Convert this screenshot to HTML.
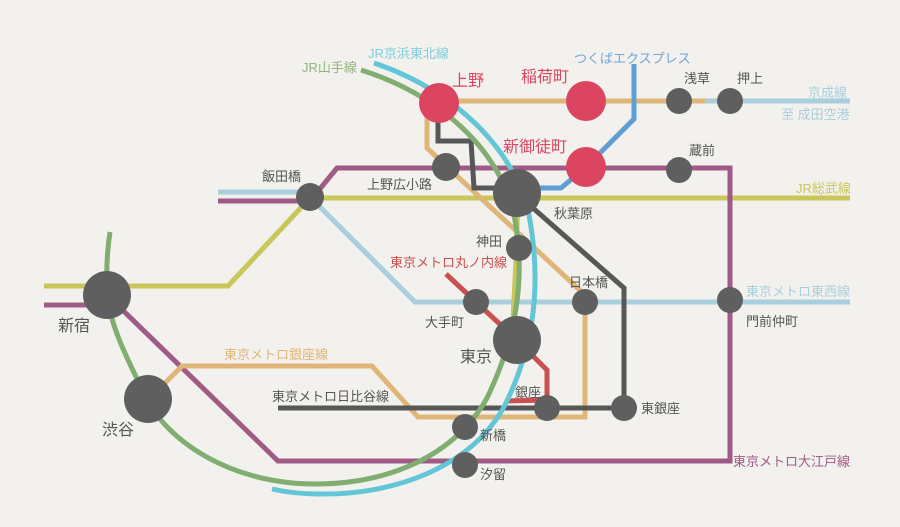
<!DOCTYPE html>
<html><head><meta charset="utf-8"><style>
html,body{margin:0;padding:0;background:#f3f1ed}
svg{display:block}
text{font-family:"Liberation Sans","Noto Sans CJK JP",sans-serif}
</style></head><body>
<svg width="900" height="527" viewBox="0 0 900 527" xmlns="http://www.w3.org/2000/svg">
<rect width="900" height="527" fill="#f3f1ed"/>
<g fill="none" stroke-linejoin="miter" stroke-width="5">
<!-- Keisei -->
<path d="M705,101 L850,101" stroke="#a9cfdd"/>
<!-- Tozai -->
<path d="M218,192 L305,192 M310,197 L415,302 L850,302" stroke="#a9cfdd"/>
<!-- Sobu yellow -->
<path d="M44,286 L228,286 L310,198 L850,198" stroke="#c9c65a"/>
<path d="M518,194 L516,260 L512,340" stroke="#c9c65a"/>
<!-- Oedo purple -->
<path d="M218,201 L310,201 L337,168 L730,168 L730,461 L278,461 L107,295 M44,305 L100,305" stroke="#a05a86"/>
<!-- Ginza orange -->
<path d="M439,101 L705,101" stroke="#e0b678"/>
<path d="M427,110 L427,148 L585,295 L585,417 L418,417 L372,366 L182,366 L149,399" stroke="#e0b678"/>
<!-- Tsukuba -->
<path d="M634,64 L634,119 L600,153 L586,167 L561,188 L530,188" stroke="#5f9fd6"/>
<!-- Hibiya -->
<path d="M438,104 L438,141 L471,141 L474,188 L517,188" stroke="#575757"/>
<path d="M517,194 L624,288 L624,408 M278,408 L624,408" stroke="#575757"/>
<!-- Marunouchi -->
<path d="M446,274 L476,302 L517,340 L547,370 L547,400 L505,401" stroke="#c9504f"/>
<!-- Yamanote -->
<path d="M361,70 C440,95 500,150 514,215 C527,280 515,340 487,398 C455,455 390,484 315,484 C230,484 165,440 145,395 C125,355 108,320 107,290 C106,265 108,245 110,232" stroke="#80ad70"/>
<!-- Keihin-Tohoku -->
<path d="M374,63 C455,90 515,150 529,215 C543,290 532,350 505,405 C470,470 390,495 320,494 C300,494 285,492 272,489" stroke="#62c6d7"/>
</g>
<g fill="#dc4560">
<circle cx="439" cy="103" r="20"/><circle cx="586" cy="101" r="20"/><circle cx="586" cy="167" r="20"/>
</g>
<g fill="#5f5f5f">
<circle cx="679" cy="101" r="13"/><circle cx="730" cy="101" r="13"/><circle cx="679" cy="170" r="13"/>
<circle cx="446" cy="167" r="14"/><circle cx="517" cy="193" r="24"/><circle cx="310" cy="197" r="14"/>
<circle cx="519" cy="248" r="13"/><circle cx="476" cy="302" r="13"/><circle cx="585" cy="302" r="13"/>
<circle cx="517" cy="340" r="24"/><circle cx="730" cy="300" r="13"/><circle cx="107" cy="295" r="24"/>
<circle cx="148" cy="399" r="24"/><circle cx="547" cy="408" r="13"/><circle cx="624" cy="408" r="13"/>
<circle cx="465" cy="427" r="13"/><circle cx="465" cy="465" r="13"/>
</g>
<g font-size="13">
<text x="302" y="72" fill="#8fb57e">JR山手線</text>
<text x="368" y="58" fill="#7fcddc">JR京浜東北線</text>
<text x="574" y="63" fill="#6fa5d8">つくばエクスプレス</text>
<text x="808" y="97" fill="#a9cfdd">京成線</text>
<text x="781" y="119" fill="#a9cfdd">至 成田空港</text>
<text x="796" y="193" fill="#c9c65a">JR総武線</text>
<text x="746" y="296" fill="#a9cfdd">東京メトロ東西線</text>
<text x="733" y="466" fill="#a05a86">東京メトロ大江戸線</text>
<text x="390" y="267" fill="#c9504f">東京メトロ丸ノ内線</text>
<text x="224" y="359" fill="#e0b678">東京メトロ銀座線</text>
<text x="272" y="401" fill="#575757">東京メトロ日比谷線</text>
</g>
<g font-size="16" fill="#dc4560">
<text x="452" y="86">上野</text><text x="521" y="82">稲荷町</text><text x="503" y="152">新御徒町</text>
</g>
<g font-size="13" fill="#555">
<text x="684" y="83">浅草</text><text x="737" y="83">押上</text><text x="689" y="155">蔵前</text>
<text x="262" y="181">飯田橋</text><text x="367" y="189">上野広小路</text><text x="554" y="218">秋葉原</text>
<text x="476" y="246">神田</text><text x="569" y="287">日本橋</text><text x="425" y="327">大手町</text>
<text x="746" y="326">門前仲町</text><text x="515" y="397">銀座</text><text x="641" y="413">東銀座</text>
<text x="480" y="440">新橋</text><text x="480" y="479">汐留</text>
</g>
<g font-size="16" fill="#555">
<text x="460" y="362">東京</text><text x="58" y="331">新宿</text><text x="102" y="435">渋谷</text>
</g>
</svg>
</body></html>
